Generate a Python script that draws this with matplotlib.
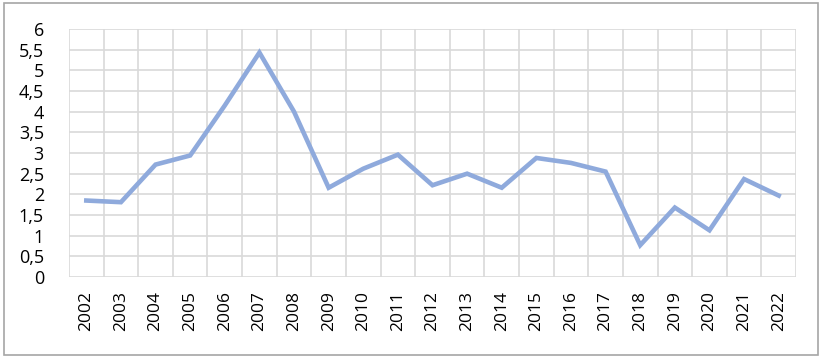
import numpy as np
import matplotlib.pyplot as plt
from matplotlib.patches import Rectangle
from matplotlib.ticker import FixedLocator, FuncFormatter

# %% Daten
years = [str(y) for y in range(2002, 2023)]
values = [1.85, 1.81, 2.72, 2.94, 4.15, 5.43, 4.0, 2.16, 2.62, 2.96, 2.22,
          2.50, 2.16, 2.88, 2.76, 2.55, 0.77, 1.68, 1.13, 2.37, 1.97]
y_ticks = [0, 0.5, 1, 1.5, 2, 2.5, 3, 3.5, 4, 4.5, 5, 5.5, 6]

plt.rcParams['font.family'] = ['Open Sans', 'DejaVu Sans']

fig = plt.figure(figsize=(8.22, 3.58), dpi=100)
ax = fig.add_axes([69 / 822, 1 - 277 / 358, 727 / 822, 248 / 358])

x = np.arange(len(years))
ax.plot(x, values, color='#8FAADC', lw=3.3, solid_joinstyle='miter', zorder=3)

ax.set_xlim(-0.5, len(years) - 0.5)
ax.set_ylim(0, 6)

# Gitter: waagrecht bei jedem Tick, senkrecht zwischen den Kategorien
ax.set_yticks(y_ticks)
ax.yaxis.set_major_formatter(FuncFormatter(lambda v, p: f"{v:g}".replace('.', ',')))
ax.set_xticks(x)
ax.set_xticklabels(years, rotation=90)
ax.xaxis.set_minor_locator(FixedLocator(np.arange(-0.5, len(years), 1)))
ax.grid(True, axis='y', which='major', color='#D9D9D9', lw=1.2)
ax.grid(True, axis='x', which='minor', color='#D9D9D9', lw=1.2)
ax.tick_params(axis='both', which='both', length=0, labelsize=12.5, colors='black')
ax.tick_params(axis='x', pad=10)
ax.tick_params(axis='y', labelsize=13, pad=18)
for lab in ax.get_yticklabels():
    lab.set_horizontalalignment('right')

for s in ax.spines.values():
    s.set_visible(False)

# Rahmen um das Diagramm
fig.patches.append(Rectangle((4 / 822, 3 / 358), 814 / 822, 352 / 358,
                             transform=fig.transFigure, fill=False,
                             edgecolor='#A6A6A6', lw=1.2))

fig.savefig('out.png', dpi=100)
